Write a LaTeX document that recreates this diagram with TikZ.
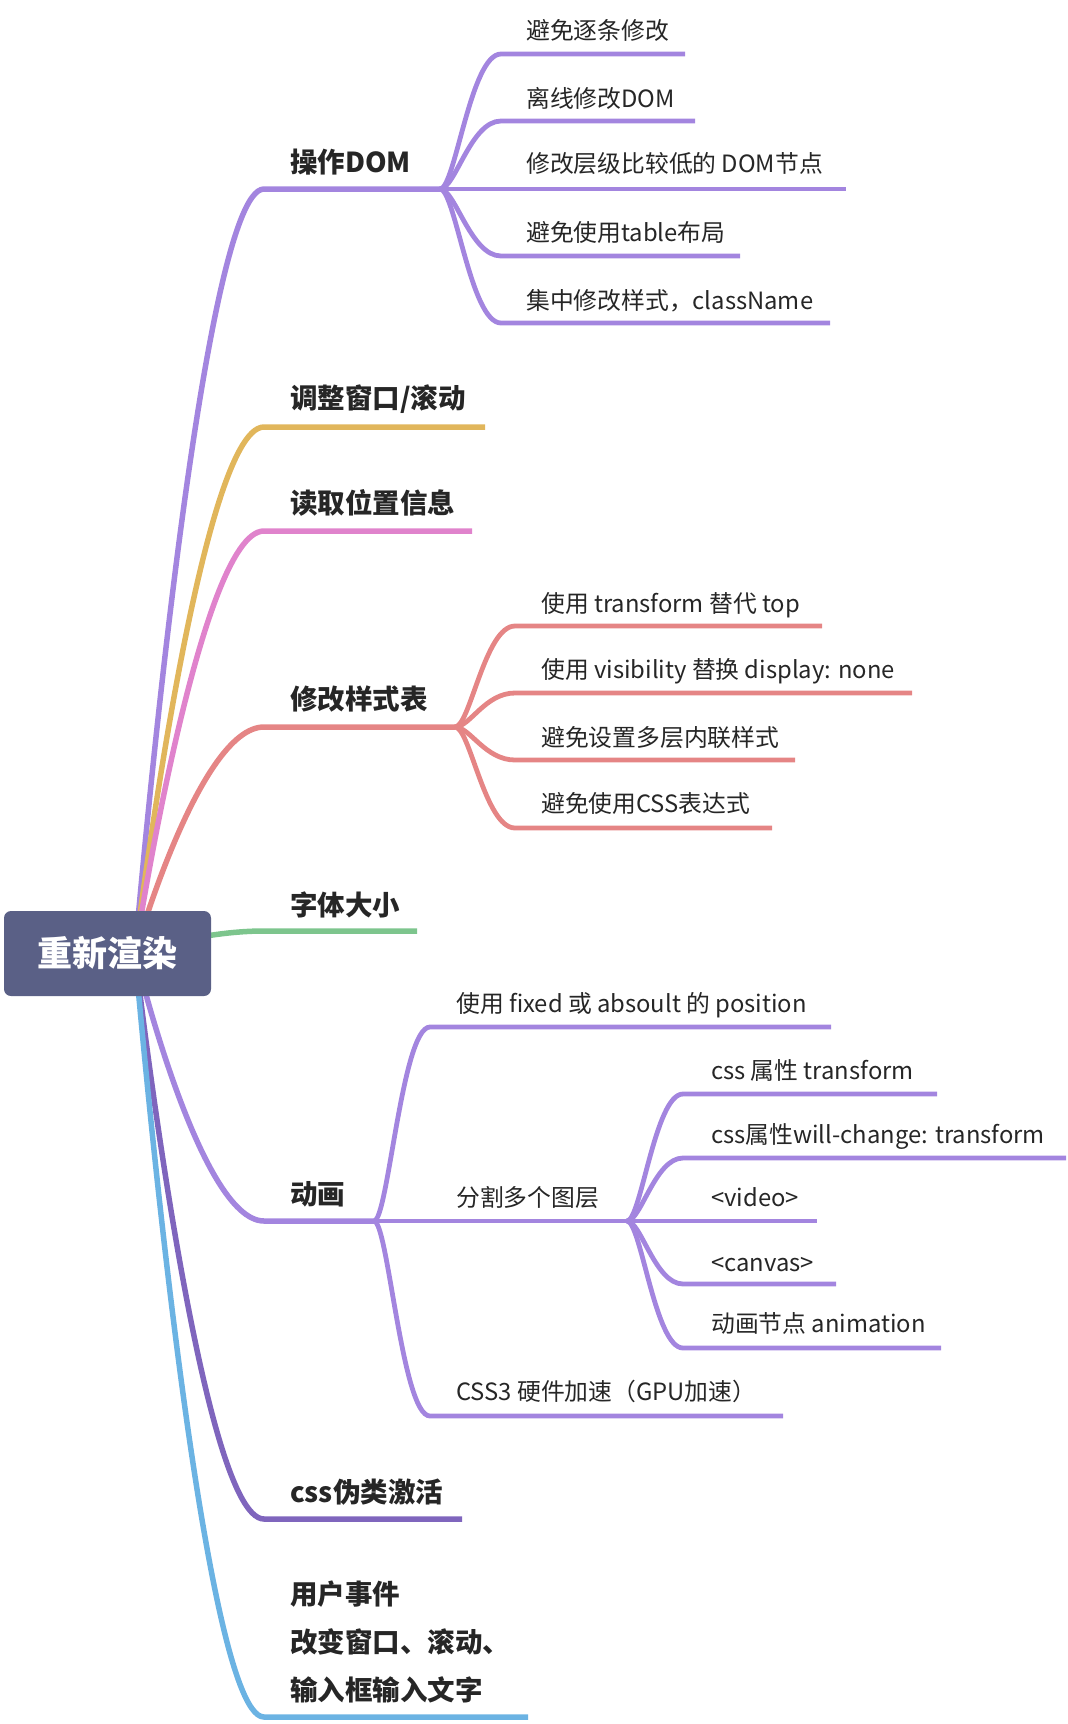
\documentclass[tikz,border=0pt]{standalone}
\usepackage{fontspec}
\setmainfont{Noto Sans CJK SC}
\usetikzlibrary{calc}
\definecolor{cpurple}{HTML}{A385DF}
\definecolor{cgold}{HTML}{E1B65B}
\definecolor{cpink}{HTML}{E083CC}
\definecolor{csalmon}{HTML}{E58585}
\definecolor{cgreen}{HTML}{7DC58D}
\definecolor{cdpurple}{HTML}{7F65BD}
\definecolor{cblue}{HTML}{6BB3E3}
\definecolor{croot}{HTML}{5A6086}
\definecolor{ctxt}{HTML}{262626}
\tikzset{
  mainline/.style={line width=5.5pt},
  subline/.style={line width=4.8pt},
  mainlabel/.style={anchor=base west, inner sep=0pt, text=ctxt, font=\fontsize{27.5}{33}\selectfont\bfseries},
  sublabel/.style={anchor=base west, inner sep=0pt, text=ctxt, font=\fontsize{23.8}{28}\selectfont},
  rootbox/.style={fill=croot, rounded corners=7pt, minimum width=207pt, minimum height=85pt, inner sep=0pt, text=white, font=\fontsize{35}{40}\selectfont\bfseries},
}
\newcommand{\mbranch}[4]{\draw[mainline,#1] (#2) .. controls (#2) and ($(#3)!.5!(#3 -| #2)$) .. (#3) -- (#4);}
\newcommand{\sbranch}[4]{\draw[subline,#1] (#2) .. controls ($(#2)!.25!(#2 -| #3)$) and ($(#3)!.5!(#3 -| #2)$) .. (#3) -- (#4);}
\begin{document}
\begin{tikzpicture}[x=1pt,y=-1pt]
\useasboundingbox (0,0) rectangle (1068,1724);
\coordinate (src) at (135,953);
% main branch points
\coordinate (m1a) at (264,189);  \coordinate (m1b) at (440,189);
\coordinate (m2a) at (264,427);  \coordinate (m2b) at (485,427);
\coordinate (m3a) at (264,531);  \coordinate (m3b) at (472,531);
\coordinate (m4a) at (264,727);  \coordinate (m4b) at (455,727);
\coordinate (m5a) at (264,931);  \coordinate (m5b) at (417,931);
\coordinate (m6a) at (264,1221); \coordinate (m6b) at (374,1221);
\coordinate (m7a) at (264,1519); \coordinate (m7b) at (462,1519);
\coordinate (m8a) at (264,1717); \coordinate (m8b) at (528,1717);
% subs of m1
\coordinate (s11a) at (501,54);  \coordinate (s11b) at (685,54);
\coordinate (s12a) at (501,121); \coordinate (s12b) at (695,121);
\coordinate (s13a) at (501,189); \coordinate (s13b) at (846,189);
\coordinate (s14a) at (501,256); \coordinate (s14b) at (740,256);
\coordinate (s15a) at (501,323); \coordinate (s15b) at (830,323);
% subs of m4
\coordinate (s41a) at (515,626); \coordinate (s41b) at (822,626);
\coordinate (s42a) at (515,693); \coordinate (s42b) at (912,693);
\coordinate (s43a) at (515,760); \coordinate (s43b) at (795,760);
\coordinate (s44a) at (515,828); \coordinate (s44b) at (772,828);
% subs of m6
\coordinate (s61a) at (430,1027); \coordinate (s61b) at (831,1027);
\coordinate (s62a) at (430,1221); \coordinate (s62b) at (627,1221);
\coordinate (s63a) at (430,1416); \coordinate (s63b) at (783,1416);
% subs of s62
\coordinate (t1a) at (683,1094); \coordinate (t1b) at (937,1094);
\coordinate (t2a) at (683,1158); \coordinate (t2b) at (1066,1158);
\coordinate (t3a) at (683,1221); \coordinate (t3b) at (817,1221);
\coordinate (t4a) at (683,1284); \coordinate (t4b) at (836,1284);
\coordinate (t5a) at (683,1348); \coordinate (t5b) at (941,1348);

% main branches
\mbranch{cpurple}{src}{m1a}{m1b}
\mbranch{cgold}{src}{m2a}{m2b}
\mbranch{cpink}{src}{m3a}{m3b}
\mbranch{csalmon}{src}{m4a}{m4b}
\mbranch{cgreen}{src}{m5a}{m5b}
\mbranch{cpurple}{src}{m6a}{m6b}
\mbranch{cdpurple}{src}{m7a}{m7b}
\mbranch{cblue}{src}{m8a}{m8b}
% sub branches
\sbranch{cpurple}{m1b}{s11a}{s11b}
\sbranch{cpurple}{m1b}{s12a}{s12b}
\sbranch{cpurple}{m1b}{s13a}{s13b}
\sbranch{cpurple}{m1b}{s14a}{s14b}
\sbranch{cpurple}{m1b}{s15a}{s15b}
\sbranch{csalmon}{m4b}{s41a}{s41b}
\sbranch{csalmon}{m4b}{s42a}{s42b}
\sbranch{csalmon}{m4b}{s43a}{s43b}
\sbranch{csalmon}{m4b}{s44a}{s44b}
\sbranch{cpurple}{m6b}{s61a}{s61b}
\sbranch{cpurple}{m6b}{s62a}{s62b}
\sbranch{cpurple}{m6b}{s63a}{s63b}
\sbranch{cpurple}{s62b}{t1a}{t1b}
\sbranch{cpurple}{s62b}{t2a}{t2b}
\sbranch{cpurple}{s62b}{t3a}{t3b}
\sbranch{cpurple}{s62b}{t4a}{t4b}
\sbranch{cpurple}{s62b}{t5a}{t5b}

% root
\node[rootbox] (root) at (107.5,953.5) {重新渲染};

% main labels
\node[mainlabel] (l1) at (290,172) {操作DOM};
\node[mainlabel] (l2) at (290,408.5) {调整窗口/滚动};
\node[mainlabel] (l3) at (290,513) {读取位置信息};
\node[mainlabel] (l4) at (290,709.5) {修改样式表};
\node[mainlabel] (l5) at (290,915) {字体大小};
\node[mainlabel] (l6) at (290,1204) {动画};
\node[mainlabel] (l7) at (290,1502) {css伪类激活};
\node[mainlabel, anchor=west, align=left, font=\fontsize{27.5}{48}\selectfont\bfseries] (l8) at (290,1642) {用户事件\\改变窗口、滚动、\\输入框输入文字};

% sub labels
\node[sublabel] (a11) at (526,39) {避免逐条修改};
\node[sublabel] (a12) at (526,107) {离线修改DOM};
\node[sublabel] (a13) at (526,172) {修改层级比较低的 DOM节点};
\node[sublabel] (a14) at (526,241) {避免使用table布局};
\node[sublabel] (a15) at (526,309) {集中修改样式，className};

\node[sublabel] (a41) at (541,612) {使用 transform 替代 top};
\node[sublabel] (a42) at (541,678) {使用 visibility 替换 display: none};
\node[sublabel] (a43) at (541,746) {避免设置多层内联样式};
\node[sublabel] (a44) at (541,812) {避免使用CSS表达式};

\node[sublabel] (a61) at (456,1012) {使用 fixed 或 absoult 的 position};
\node[sublabel] (a62) at (456,1206) {分割多个图层};
\node[sublabel] (a63) at (456,1400) {CSS3 硬件加速（GPU加速）};

\node[sublabel] (b1) at (711,1079) {css 属性 transform};
\node[sublabel] (b2) at (711,1143) {css属性will-change: transform};
\node[sublabel] (b3) at (711,1206) {<video>};
\node[sublabel] (b4) at (711,1271) {<canvas>};
\node[sublabel] (b5) at (711,1332) {动画节点 animation};
\end{tikzpicture}
\end{document}
